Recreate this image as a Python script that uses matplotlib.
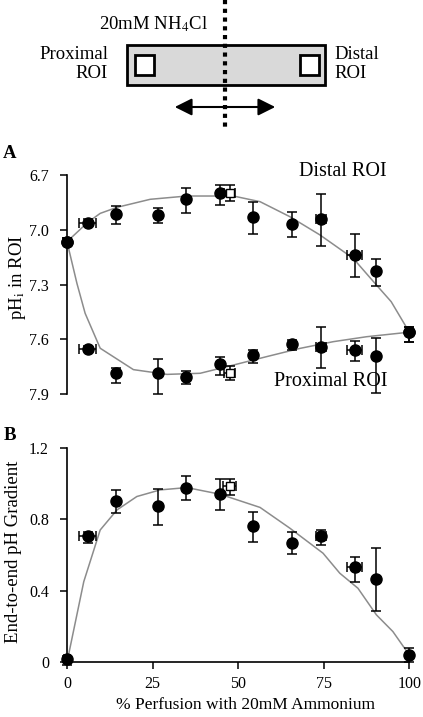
import numpy as np
import matplotlib
matplotlib.use("Agg")
import matplotlib.pyplot as plt
from matplotlib.patches import Rectangle

plt.rcParams['font.family'] = ['Liberation Serif', 'DejaVu Serif']
plt.rcParams['mathtext.fontset'] = 'stix'

# % perfusion with ammonium (x positions of the measured points)
perfusion = [0, 6, 14.2, 26.5, 34.8, 44.8, 54.2, 65.8, 74.3, 84, 90.3, 100]
perf_xerr = [1, 2.6, 0, 0, 0, 0, 0, 0, 1.5, 2.2, 0, 0]

# panel A: pHi in each ROI
distal_ph = [7.065, 6.96, 6.915, 6.92, 6.83, 6.80, 6.93, 6.97, 6.94, 7.138, 7.225, 7.56]
distal_lo = [0.02, 0.02, 0.045, 0.04, 0.057, 0.045, 0.084, 0.07, 0.134, 0.113, 0.064, 0.03]
distal_hi = [0.02, 0.02, 0.055, 0.04, 0.076, 0.064, 0.095, 0.07, 0.149, 0.118, 0.081, 0.052]

prox_ph = [7.065, 7.65, 7.785, 7.785, 7.805, 7.734, 7.687, 7.626, 7.643, 7.66, 7.689, 7.56]
prox_lo = [0.02, 0.015, 0.031, 0.08, 0.031, 0.04, 0.029, 0.022, 0.113, 0.05, 0.095, 0.03]
prox_hi = [0.02, 0.015, 0.051, 0.115, 0.04, 0.06, 0.044, 0.032, 0.115, 0.056, 0.206, 0.052]

# open-square control point
open_x = 47.5
open_xerr = 1.6
open_distal, open_distal_err = 6.80, 0.045
open_prox, open_prox_err = 7.785, 0.038

# model curves
dist_cx = [0, 6, 9.7, 14.6, 24.3, 35, 48.6, 56.4, 65.1, 73.9, 83.6, 90.4, 94.7, 100]
dist_cy = [7.065, 6.96, 6.91, 6.877, 6.833, 6.815, 6.815, 6.846, 6.928, 7.028, 7.156, 7.302, 7.393, 7.56]
prox_cx = [0, 2.9, 5.3, 9.7, 19.4, 29.2, 38.9, 48.6, 58.3, 68, 77.8, 87.5, 100]
prox_cy = [7.065, 7.293, 7.457, 7.648, 7.765, 7.791, 7.785, 7.74, 7.694, 7.649, 7.612, 7.585, 7.56]

# panel B: end-to-end gradient
gradient = [0.017, 0.706, 0.902, 0.874, 0.973, 0.94, 0.764, 0.669, 0.708, 0.535, 0.466, 0.041]
grad_lo = [0.03, 0.041, 0.069, 0.106, 0.065, 0.088, 0.089, 0.065, 0.052, 0.084, 0.179, 0.041]
grad_hi = [0.02, 0.024, 0.062, 0.095, 0.071, 0.087, 0.075, 0.061, 0.032, 0.056, 0.172, 0.041]
open_grad, open_grad_lo, open_grad_hi = 0.986, 0.05, 0.041

grad_cx = [0, 4.9, 9.7, 14.6, 20.4, 27.2, 35, 44.7, 56.4, 65.1, 74.8, 79.7, 85, 90.4, 95.2, 100]
grad_cy = [0.0, 0.451, 0.74, 0.852, 0.927, 0.964, 0.977, 0.94, 0.866, 0.75, 0.61, 0.498, 0.414, 0.265, 0.172, 0.041]

W, H = 423, 717
fig = plt.figure(figsize=(W / 100, H / 100), dpi=100)

def px_rect(l, t, r, b):
    return [l / W, 1 - b / H, (r - l) / W, (b - t) / H]

def ftext(x, y, s, **kw):
    # place text by pixel position (from top-left)
    return fig.text(x / W, 1 - y / H, s, **kw)

curve_col = '#8c8c8c'
eb = dict(fmt='o', color='black', ms=8, elinewidth=1.1, capsize=3.5, capthick=1.1, clip_on=False, zorder=3)
eb_open = dict(fmt='s', mfc='white', mec='black', color='black', ms=5.5, elinewidth=1.1,
               capsize=3.5, capthick=1.1, clip_on=False, zorder=4)

def style_axis(ax):
    for s in ['top', 'right']:
        ax.spines[s].set_visible(False)
    ax.spines['left'].set_linewidth(1.2)
    ax.spines['bottom'].set_linewidth(1.2)
    ax.tick_params(direction='out', length=5, width=1.1, labelsize=11.5)
    ax.tick_params(axis='y', pad=8)
    ax.tick_params(axis='x', pad=5)

# --- schematic at the top ---
axd = fig.add_axes([0, 1 - 130 / H, 1, 130 / H])
axd.set_xlim(0, W)
axd.set_ylim(130, 0)
axd.axis('off')
axd.add_patch(Rectangle((127, 45), 198, 40, facecolor='#d9d9d9', edgecolor='black', lw=2))
axd.add_patch(Rectangle((135, 55), 19, 20, facecolor='white', edgecolor='black', lw=2))
axd.add_patch(Rectangle((300, 55), 19, 20, facecolor='white', edgecolor='black', lw=2))
axd.plot([225, 225], [0, 128], color='black', lw=3, linestyle=(0, (1, 1.1)))
axd.annotate('', xy=(172, 107), xytext=(278, 107),
             arrowprops=dict(arrowstyle='<|-|>', color='black', lw=1.5, mutation_scale=26))
axd.text(153, 24, r'20mM NH$_4$Cl', fontsize=13.5, ha='center', va='center')
axd.text(108, 64, 'Proximal\nROI', fontsize=13.5, ha='right', va='center', linespacing=1.2)
axd.text(334, 64, 'Distal\nROI', fontsize=13.5, ha='left', va='center', linespacing=1.2)

# --- panel A ---
axA = fig.add_axes(px_rect(67, 175, 409.3, 394.3))
style_axis(axA)
axA.spines['bottom'].set_visible(False)
axA.tick_params(axis='x', bottom=False, labelbottom=False)
axA.plot(dist_cx, dist_cy, color=curve_col, lw=1.1, zorder=2)
axA.plot(prox_cx, prox_cy, color=curve_col, lw=1.1, zorder=2)
axA.errorbar(perfusion, distal_ph, yerr=[distal_lo, distal_hi], xerr=perf_xerr, **eb)
axA.errorbar(perfusion, prox_ph, yerr=[prox_lo, prox_hi], xerr=perf_xerr, **eb)
axA.errorbar([open_x], [open_distal], yerr=open_distal_err, xerr=open_xerr, **eb_open)
axA.errorbar([open_x], [open_prox], yerr=open_prox_err, xerr=open_xerr, **eb_open)
axA.set_xlim(0, 100)
axA.set_ylim(7.9, 6.7)
axA.set_yticks([6.7, 7.0, 7.3, 7.6, 7.9])
axA.set_yticklabels(['6.7', '7.0', '7.3', '7.6', '7.9'])
ftext(387, 172, 'Distal ROI', fontsize=14.5, ha='right', va='center')
ftext(387, 382, 'Proximal ROI', fontsize=14.5, ha='right', va='center')
ftext(18, 277, r'pH$_\mathrm{i}$ in ROI', fontsize=13.5, rotation=90, ha='center', va='center')
ftext(10, 153, 'A', fontsize=13.5, fontweight='bold', ha='center', va='center')

# --- panel B ---
axB = fig.add_axes(px_rect(67, 447.7, 409.3, 662.3))
style_axis(axB)
axB.plot(grad_cx, grad_cy, color=curve_col, lw=1.1, zorder=2)
axB.errorbar(perfusion, gradient, yerr=[grad_lo, grad_hi], xerr=perf_xerr, **eb)
axB.errorbar([open_x], [open_grad], yerr=[[open_grad_lo], [open_grad_hi]], xerr=1.8, **eb_open)
axB.set_xlim(0, 100)
axB.set_ylim(0, 1.2)
axB.set_xticks([0, 25, 50, 75, 100])
axB.set_yticks([0, 0.4, 0.8, 1.2])
axB.set_yticklabels(['0', '0.4', '0.8', '1.2'])
ftext(14, 552, 'End-to-end pH Gradient', fontsize=13.5, rotation=90, ha='center', va='center')
ftext(245, 705, '% Perfusion with 20mM Ammonium', fontsize=12.5, ha='center', va='center')
ftext(10, 435, 'B', fontsize=13.5, fontweight='bold', ha='center', va='center')

fig.savefig('out.png', dpi=100)
